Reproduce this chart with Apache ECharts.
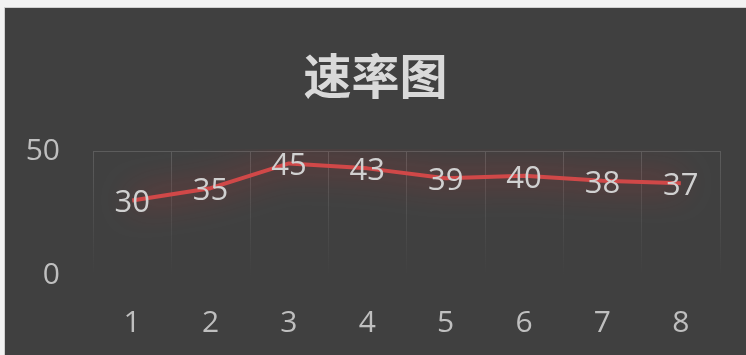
<!DOCTYPE html>
<html>
<head>
<meta charset="utf-8">
<style>
  html, body { margin: 0; padding: 0; background: #f2f2f2; }
  #main {
    position: absolute; left: 4px; top: 7px;
    width: 741px; height: 347px;
    border-left: 1px solid #cfcfcf; border-top: 1px solid #cfcfcf;
  }
</style>
<script src="https://cdn.jsdelivr.net/npm/echarts@6/dist/echarts.min.js"></script>
</head>
<body>
<div id="main"></div>
<script>
var titleText = '速率图';
var categories = ['1', '2', '3', '4', '5', '6', '7', '8'];
var speedValues = [30, 35, 45, 43, 39, 40, 38, 37];
var yTicks = { min: 0, max: 50, interval: 50 };

var myChart = echarts.init(document.getElementById('main'));
var option = {
    backgroundColor: '#404040',
    title: {
        text: titleText,
        left: 'center',
        top: 39,
        textStyle: {
            fontFamily: 'Noto Sans CJK SC',
            fontWeight: 'bold',
            fontSize: 48,
            color: '#d9d9d9'
        }
    },
    grid: {
        left: 88,
        right: 26,
        top: 143,
        bottom: 80
    },
    xAxis: {
        type: 'category',
        data: categories,
        boundaryGap: true,
        axisLine: { show: false },
        axisTick: { show: false },
        axisLabel: {
            margin: 33,
            fontFamily: 'Open Sans',
            fontSize: 30,
            color: '#bfbfbf'
        },
        splitLine: {
            show: true,
            lineStyle: {
                width: 1,
                color: {
                    type: 'linear', x: 0, y: 143, x2: 0, y2: 267, global: true,
                    colorStops: [
                        { offset: 0, color: '#5c5c5c' },
                        { offset: 1, color: '#404040' }
                    ]
                }
            }
        }
    },
    yAxis: {
        type: 'value',
        min: yTicks.min,
        max: yTicks.max,
        interval: yTicks.interval,
        axisLine: { show: false },
        axisTick: { show: false },
        axisLabel: {
            margin: 33,
            fontFamily: 'Open Sans',
            fontSize: 30,
            color: '#bfbfbf',
            verticalAlign: 'middle',
            padding: [7, 0, 0, 0]
        },
        splitLine: {
            lineStyle: { color: ['transparent', '#5c5c5c'], width: 1 }
        }
    },
    series: [
        {
            name: titleText,
            type: 'line',
            data: speedValues,
            symbol: 'circle',
            symbolSize: 2,
            showSymbol: true,
            itemStyle: { color: 'rgba(208, 72, 72, 0)', borderWidth: 0 },
            lineStyle: {
                color: '#d04848',
                width: 4,
                shadowBlur: 32,
                shadowColor: 'rgba(235, 40, 40, 0.95)'
            },
            label: {
                show: true,
                position: 'inside',
                offset: [0, 3],
                fontFamily: 'Open Sans',
                fontSize: 31,
                color: '#d0d0d0',
                opacity: 1
            }
        }
    ]
};
myChart.setOption(option);
</script>
</body>
</html>
